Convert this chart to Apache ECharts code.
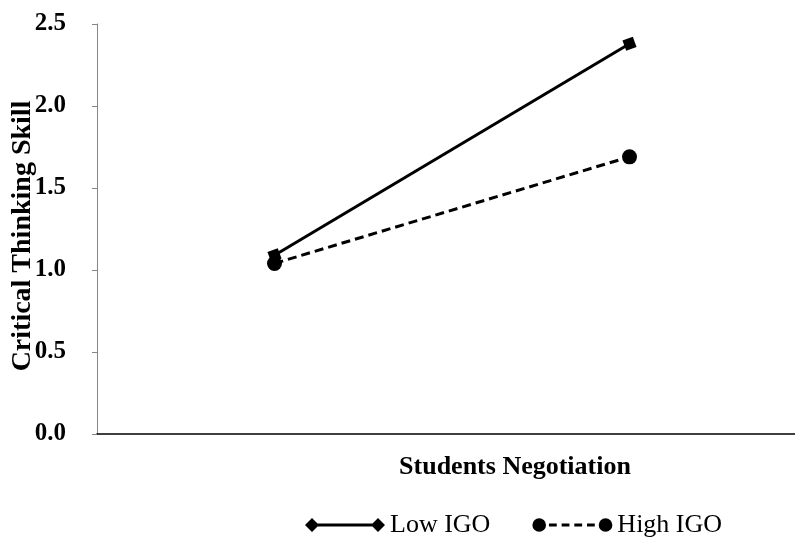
<!DOCTYPE html>
<html>
<head>
<meta charset="utf-8">
<script src="https://cdn.jsdelivr.net/npm/echarts@6/dist/echarts.min.js"></script>
<style>
html,body{margin:0;padding:0;background:#fff;}
#chart{width:795px;height:538px;}
</style>
</head>
<body>
<div id="chart"></div>
<script>
const categories = ['Low', 'High'];
const seriesNames = ['Low IGO', 'High IGO'];
const lowIGO = [1.09, 2.38];
const highIGO = [1.04, 1.69];
const yMin = 0, yMax = 2.5, yInterval = 0.5;
const xTitle = 'Students Negotiation';
const yTitle = 'Critical Thinking Skill';

const FONT = "'Liberation Serif', 'Times New Roman', serif";

const lowIcon = 'path://M0 8 L7 1 L14 8 L7 15 Z M7 6.5 L73 6.5 L73 9.5 L7 9.5 Z M66 8 L73 1 L80 8 L73 15 Z';
const highIcon = 'path://M0 8 A7 7 0 1 1 14 8 A7 7 0 1 1 0 8 Z M17 6.5 L25 6.5 L25 9.5 L17 9.5 Z M30 6.5 L38 6.5 L38 9.5 L30 9.5 Z M43 6.5 L51 6.5 L51 9.5 L43 9.5 Z M56 6.5 L64 6.5 L64 9.5 L56 9.5 Z M68 8 A7 7 0 1 1 82 8 A7 7 0 1 1 68 8 Z';

const chart = echarts.init(document.getElementById('chart'), null, {renderer: 'canvas'});
chart.setOption({
  animation: false,
  backgroundColor: '#fff',
  grid: {left: 97, top: 24, width: 710, bottom: 104, containLabel: false, outerBoundsMode: 'none'},
  legend: {
    left: 300, top: 507,
    itemGap: 42,
    itemWidth: 80, itemHeight: 17,
    textStyle: {fontFamily: FONT, fontSize: 26, color: '#000'},
    data: [
      {name: seriesNames[0], icon: lowIcon, itemStyle: {color: '#000'}},
      {name: seriesNames[1], icon: highIcon, itemStyle: {color: '#000'}}
    ]
  },
  xAxis: {
    type: 'category',
    data: categories,
    boundaryGap: true,
    name: xTitle,
    nameLocation: 'middle',
    nameGap: 20,
    nameMoveOverlap: false,
    nameTextStyle: {fontFamily: FONT, fontSize: 26, fontWeight: 'bold', color: '#000', padding: [0, 0, 0, 126]},
    axisLine: {lineStyle: {color: '#000', width: 1.5}},
    axisTick: {inside: true, length: 6, lineStyle: {color: '#000', width: 1.5}},
    axisLabel: {show: false},
    splitLine: {show: false}
  },
  yAxis: {
    type: 'value',
    min: yMin, max: yMax, interval: yInterval,
    name: yTitle,
    nameLocation: 'middle',
    nameGap: 60,
    nameMoveOverlap: false,
    nameTextStyle: {fontFamily: FONT, fontSize: 28, fontWeight: 'bold', color: '#000', padding: [0, 14, 0, 0]},
    axisLine: {show: true, lineStyle: {color: '#868686', width: 1}},
    axisTick: {show: true, length: 5, lineStyle: {color: '#868686'}},
    axisLabel: {
      margin: 31,
      fontFamily: FONT, fontSize: 25, fontWeight: 'bold', color: '#000',
      formatter: v => v.toFixed(1)
    },
    splitLine: {show: false}
  },
  series: [
    {
      name: seriesNames[0], type: 'line', data: lowIGO,
      symbol: 'rect', symbolSize: 11, symbolRotate: 20,
      lineStyle: {color: '#000', width: 3},
      itemStyle: {color: '#000'}
    },
    {
      name: seriesNames[1], type: 'line', data: highIGO,
      symbol: 'circle', symbolSize: 15,
      lineStyle: {color: '#000', width: 3, type: [9, 5]},
      itemStyle: {color: '#000'}
    }
  ]
});
</script>
</body>
</html>
